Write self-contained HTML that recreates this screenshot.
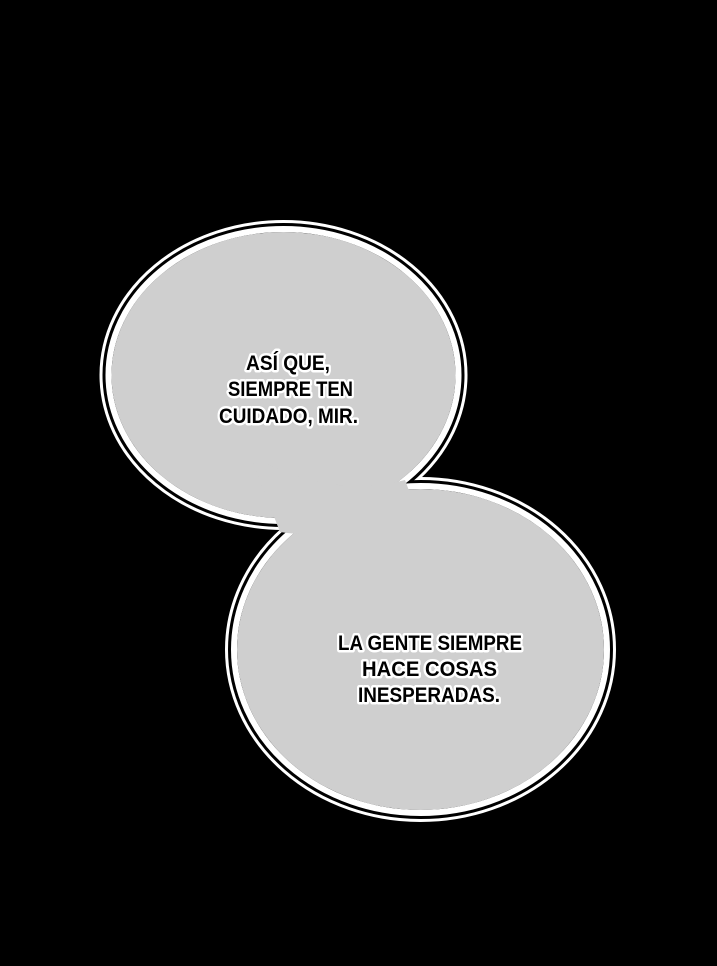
<!DOCTYPE html>
<html><head><meta charset="utf-8"><style>
html,body{margin:0;padding:0;background:#000;}
svg{display:block;}
text{font-family:"Liberation Sans",sans-serif;font-size:21px;font-weight:bold;fill:#000;stroke:#fff;stroke-width:5px;paint-order:stroke;stroke-linejoin:round;}
</style></head><body>
<svg width="717" height="966" viewBox="0 0 717 966" xmlns="http://www.w3.org/2000/svg">
<rect width="717" height="966" fill="#000"/>
<g fill="none">
<ellipse cx="283.5" cy="375" rx="175" ry="146" stroke="#fff" stroke-width="18"/>
<ellipse cx="420.5" cy="649.5" rx="186.5" ry="163.5" stroke="#fff" stroke-width="18"/>
<ellipse cx="283.5" cy="375" rx="175" ry="146" stroke="#000" stroke-width="12"/>
<ellipse cx="420.5" cy="649.5" rx="186.5" ry="163.5" stroke="#000" stroke-width="12"/>
<ellipse cx="283.5" cy="375" rx="175" ry="146" stroke="#fff" stroke-width="6"/>
<ellipse cx="420.5" cy="649.5" rx="186.5" ry="163.5" stroke="#fff" stroke-width="6"/>
</g>
<ellipse cx="283.5" cy="375" rx="172" ry="143" fill="#cfcfcf"/>
<ellipse cx="420.5" cy="649.5" rx="183.5" ry="160.5" fill="#cfcfcf"/>
<path d="M250 455 Q330 500 405 480 L420 520 Q330 540 280 532 Z" fill="#cfcfcf"/>
<text x="246" y="370" textLength="84" lengthAdjust="spacingAndGlyphs">ASÍ QUE,</text>
<text x="228" y="396" textLength="125" lengthAdjust="spacingAndGlyphs">SIEMPRE TEN</text>
<text x="219" y="423" textLength="139" lengthAdjust="spacingAndGlyphs">CUIDADO, MIR.</text>
<text x="338" y="650" textLength="184" lengthAdjust="spacingAndGlyphs">LA GENTE SIEMPRE</text>
<text x="362" y="676" textLength="135" lengthAdjust="spacingAndGlyphs">HACE COSAS</text>
<text x="358" y="702" textLength="142" lengthAdjust="spacingAndGlyphs">INESPERADAS.</text>
</svg>
</body></html>
